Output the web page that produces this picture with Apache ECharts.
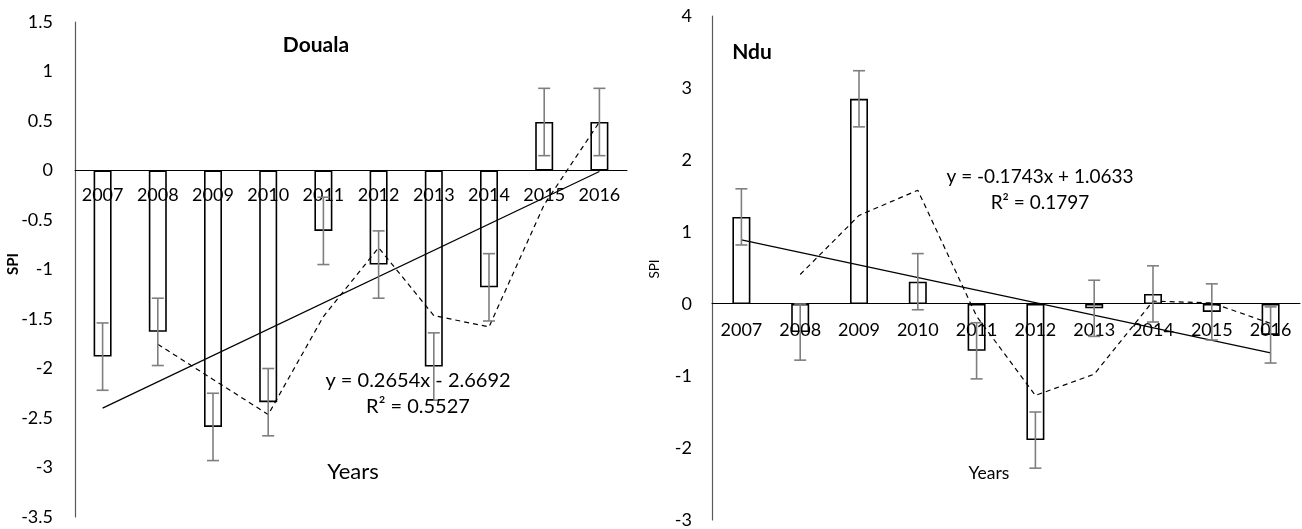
<!DOCTYPE html>
<html>
<head>
<meta charset="utf-8">
<script src="https://cdn.jsdelivr.net/npm/echarts@6/dist/echarts.min.js"></script>
<style>
html,body{margin:0;padding:0;background:#fff;}
#chart{width:1302px;height:529px;}
</style>
</head>
<body>
<div id="chart"></div>
<script>
// ---- data ----
var years = ['2007','2008','2009','2010','2011','2012','2013','2014','2015','2016'];

var doualaSPI   = [-1.88, -1.63, -2.59, -2.34, -0.61, -0.95, -1.98, -1.18, 0.49, 0.49];
var doualaErr   = [0.34, 0.34, 0.34, 0.34, 0.34, 0.34, 0.34, 0.34, 0.34, 0.34];
var doualaMA    = [null, -1.755, -2.11, -2.465, -1.475, -0.78, -1.465, -1.58, -0.345, 0.49];
var doualaTrend = [-2.40, null, null, null, null, null, null, null, null, -0.01];

var nduSPI   = [1.21, -0.39, 2.85, 0.31, -0.65, -1.89, -0.06, 0.14, -0.11, -0.43];
var nduErr   = [0.39, 0.39, 0.39, 0.39, 0.39, 0.39, 0.39, 0.39, 0.39, 0.39];
var nduMA    = [null, 0.41, 1.23, 1.58, -0.17, -1.27, -0.975, 0.04, 0.015, -0.27];
var nduTrend = [0.89, null, null, null, null, null, null, null, null, -0.68];

var doualaEq = ['y = 0.2654x - 2.6692', 'R\u00B2 = 0.5527'];
var nduEq    = ['y = -0.1743x + 1.0633', 'R\u00B2 = 0.1797'];

// ---- layout ----
var FONT = 'Lato';
var grids = [
  { left: 75, top: 22, width: 552, height: 495, min: -3.5, max: 1.5, interval: 0.5 },
  { left: 712, top: 16, width: 588, height: 506, min: -3, max: 4, interval: 1 }
];
// distance (px) from the grid's bottom edge up to the value 0, so the category axis sits on zero
function zeroOffset(g) {
  return -g.height * (0 - g.min) / (g.max - g.min);
}

// ---- helpers ----
function errData(vals, errs) {
  return vals.map(function (v, i) { return [i, v - errs[i], v + errs[i]]; });
}
function errRender(params, api) {
  var x = api.value(0);
  var lo = api.coord([x, api.value(1)]);
  var hi = api.coord([x, api.value(2)]);
  var h = 6;
  var st = { stroke: '#7f7f7f', lineWidth: 1.6 };
  return { type: 'group', children: [
    { type: 'line', shape: { x1: hi[0], y1: hi[1], x2: lo[0], y2: lo[1] }, style: st },
    { type: 'line', shape: { x1: hi[0] - h, y1: hi[1], x2: hi[0] + h, y2: hi[1] }, style: st },
    { type: 'line', shape: { x1: lo[0] - h, y1: lo[1], x2: lo[0] + h, y2: lo[1] }, style: st }
  ]};
}
function xAxisCfg(gi, margin) {
  return {
    type: 'category', gridIndex: gi, data: years, z: 5, position: 'bottom',
    offset: zeroOffset(grids[gi]),
    axisLine: { onZero: false, lineStyle: { color: '#000', width: 1 } },
    axisTick: { show: false },
    axisLabel: { fontFamily: FONT, fontSize: 18, color: '#000', margin: margin },
    splitLine: { show: false }
  };
}
function yAxisCfg(gi, margin) {
  var g = grids[gi];
  return {
    type: 'value', gridIndex: gi, min: g.min, max: g.max, interval: g.interval,
    axisLine: { show: true, onZero: false, lineStyle: { color: '#595959', width: 1.2 } },
    axisTick: { show: false },
    splitLine: { show: false },
    axisLabel: { fontFamily: FONT, fontSize: 18, color: '#000', margin: margin }
  };
}
function barSeries(ai, vals) {
  return { type: 'bar', xAxisIndex: ai, yAxisIndex: ai, data: vals, barWidth: 18, z: 2,
    itemStyle: { color: '#fff', borderColor: '#000', borderWidth: 1.6 }, silent: true };
}
function maSeries(ai, vals) {
  return { type: 'line', xAxisIndex: ai, yAxisIndex: ai, data: vals, symbol: 'none', z: 6,
    lineStyle: { color: '#000', width: 1.2, type: [5, 4] }, silent: true };
}
function trendSeries(ai, vals) {
  return { type: 'line', xAxisIndex: ai, yAxisIndex: ai, data: vals, symbol: 'none', z: 6,
    connectNulls: true, lineStyle: { color: '#000', width: 1.2 }, silent: true };
}
function errSeries(ai, vals, errs) {
  return { type: 'custom', xAxisIndex: ai, yAxisIndex: ai, data: errData(vals, errs), z: 7,
    renderItem: errRender, silent: true };
}
function txt(x, y, s, size, opts) {
  opts = opts || {};
  return { type: 'text', x: x, y: y, rotation: opts.rot || 0, z: 100,
    style: { text: s, fontFamily: FONT, fontSize: size, fontWeight: opts.bold ? 'bold' : 'normal',
      fill: '#000', align: 'center', verticalAlign: 'middle' } };
}

var chart = echarts.init(document.getElementById('chart'), null, { renderer: 'canvas' });
chart.setOption({
  animation: false,
  backgroundColor: '#fff',
  grid: grids.map(function (g) { return { left: g.left, top: g.top, width: g.width, height: g.height }; }),
  xAxis: [xAxisCfg(0, 16), xAxisCfg(1, 18)],
  yAxis: [yAxisCfg(0, 22), yAxisCfg(1, 20)],
  series: [
    barSeries(0, doualaSPI), errSeries(0, doualaSPI, doualaErr), maSeries(0, doualaMA), trendSeries(0, doualaTrend),
    barSeries(1, nduSPI), errSeries(1, nduSPI, nduErr), maSeries(1, nduMA), trendSeries(1, nduTrend)
  ],
  graphic: [
    txt(316, 45, 'Douala', 21, { bold: true }),
    txt(13, 264, 'SPI', 15, { bold: true, rot: Math.PI / 2 }),
    txt(353, 472, 'Years', 22),
    txt(418, 381, doualaEq[0], 20),
    txt(418, 407, doualaEq[1], 20),
    txt(752, 52, 'Ndu', 21, { bold: true }),
    txt(655, 269, 'SPI', 13.5, { rot: Math.PI / 2 }),
    txt(989, 473, 'Years', 17.5),
    txt(1040, 177, nduEq[0], 19),
    txt(1040, 203, nduEq[1], 19)
  ]
});
</script>
</body>
</html>
